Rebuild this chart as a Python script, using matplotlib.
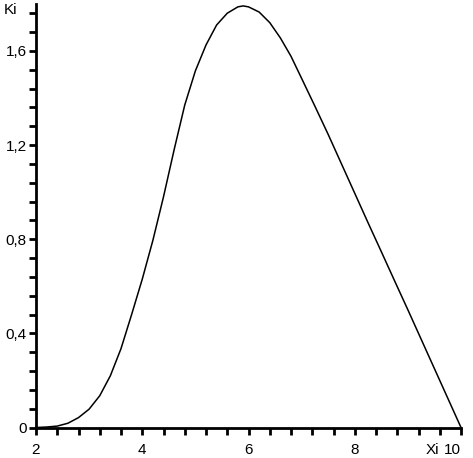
import matplotlib
matplotlib.use('Agg')
from matplotlib import pyplot as plt
from matplotlib.ticker import MultipleLocator, FuncFormatter

# points
xi = [2.0, 2.2, 2.4, 2.6, 2.8, 3.0, 3.2, 3.4, 3.6, 3.8, 4.0, 4.2, 4.4, 4.6,
      4.8, 5.0, 5.2, 5.4, 5.6, 5.8, 5.9, 6.0, 6.2, 6.4, 6.6, 6.8, 7.0, 7.25,
      7.5, 7.75, 8.0, 8.25, 8.5, 8.75, 9.0, 9.25, 9.5, 9.75, 10.0]
ki = [0.0, 0.002, 0.006, 0.018, 0.042, 0.078, 0.135, 0.22, 0.335, 0.48, 0.63,
      0.795, 0.98, 1.18, 1.37, 1.515, 1.625, 1.71, 1.76, 1.787, 1.791, 1.787,
      1.765, 1.72, 1.655, 1.577, 1.483, 1.365, 1.245, 1.12, 0.995, 0.87,
      0.747, 0.623, 0.5, 0.375, 0.25, 0.125, 0.0]

fig = plt.figure(figsize=(4.73, 4.58), dpi=100)
ax = fig.add_axes([36 / 473, 30.5 / 458, 425 / 473, 423.7 / 458])

ax.plot(xi, ki, color='black', linewidth=1.1, clip_on=False)

ax.set_xlim(2, 10)
ax.set_ylim(0, 1.8)
for s in ['top', 'right']:
    ax.spines[s].set_visible(False)
for s in ['left', 'bottom']:
    ax.spines[s].set_linewidth(2)

ax.set_xticks([2, 4, 6, 8, 10])
ax.xaxis.set_minor_locator(MultipleLocator(0.4))
ax.yaxis.set_major_locator(MultipleLocator(0.4))
ax.yaxis.set_minor_locator(MultipleLocator(0.08))
comma = FuncFormatter(lambda v, p: ('%g' % round(v, 2)).replace('.', ','))
ax.xaxis.set_major_formatter(comma)
ax.yaxis.set_major_formatter(comma)
ax.tick_params(which='both', direction='out', length=5, width=2, color='black',
               labelsize=11)
ax.tick_params(axis='x', pad=6.5)
ax.tick_params(axis='y', pad=1.5)
for lab in ax.get_xticklabels() + ax.get_yticklabels():
    lab.set_family('Liberation Sans')
ax.get_xticklabels()[-1].set_ha('right')

fig.text(10 / 473, 1 - 10 / 458, 'Ki', ha='center', va='center',
         fontsize=11, family='Liberation Sans')
fig.text(432 / 473, 1 - 450 / 458, 'Xi', ha='center', va='center',
         fontsize=11, family='Liberation Sans')

fig.savefig('out.png', dpi=100)
